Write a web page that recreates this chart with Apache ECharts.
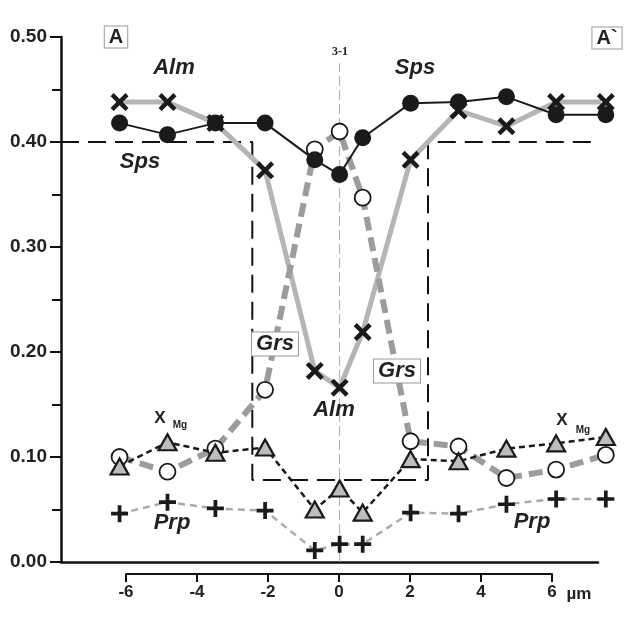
<!DOCTYPE html>
<html>
<head>
<meta charset="utf-8">
<script src="https://cdn.jsdelivr.net/npm/echarts@6/dist/echarts.min.js"></script>
<style>
html,body{margin:0;padding:0;background:#fff}
#chart{width:640px;height:618px}
</style>
</head>
<body>
<div id="chart"></div>
<script>
// distance from the centre of the profile, µm
var distance = [-6.2, -4.85, -3.5, -2.1, -0.7, 0, 0.65, 2.0, 3.35, 4.7, 6.1, 7.5];

var sps = [0.418, 0.407, 0.418, 0.418, 0.383, 0.369, 0.404, 0.437, 0.438, 0.443, 0.426, 0.426];
var alm = [0.438, 0.438, 0.418, 0.373, 0.182, 0.166, 0.219, 0.383, 0.430, 0.415, 0.438, 0.438];
var grs = [0.100, 0.086, 0.108, 0.164, 0.393, 0.410, 0.347, 0.115, 0.110, 0.080, 0.088, 0.102];
var xMg = [0.091, 0.114, 0.104, 0.109, 0.050, 0.070, 0.047, 0.098, 0.096, 0.108, 0.113, 0.119];
var prp = [0.046, 0.057, 0.051, 0.049, 0.011, 0.017, 0.017, 0.047, 0.046, 0.055, 0.060, 0.060];

// zone boundary (dashed step line)
var zoneX = [-7.85, -2.46, -2.46, 2.49, 2.49, 8.5];
var zoneY = [0.40, 0.40, 0.078, 0.078, 0.40, 0.40];

var yTicks = [0, 0.1, 0.2, 0.3, 0.4, 0.5];
var xTicks = [-6, -4, -2, 0, 2, 4, 6];

function pairs(xs, ys) {
  return xs.map(function (x, i) { return [x, ys[i]]; });
}

var crossX = 'path://M3.5,0 L10,6.5 L16.5,0 L20,3.5 L13.5,10 L20,16.5 L16.5,20 L10,13.5 L3.5,20 L0,16.5 L6.5,10 L0,3.5 Z';
var crossPlus = 'path://M7.8,0 H12.2 V7.8 H20 V12.2 H12.2 V20 H7.8 V12.2 H0 V7.8 H7.8 Z';

var narrow = '"Liberation Sans Narrow", "Liberation Sans", Arial, sans-serif';
var ital = 'italic bold 22px "Liberation Sans", Arial, sans-serif';

var myChart = echarts.init(document.getElementById('chart'));

function label(x, y, text, font, boxed) {
  var st = {text: text, font: font, fill: '#222', align: 'center', verticalAlign: 'middle'};
  if (boxed) {
    st.backgroundColor = '#fff';
    st.borderColor = '#999';
    st.borderWidth = 1;
    st.padding = [1, 4, 0, 4];
  }
  return {type: 'text', x: x, y: y, z: 100, style: st};
}

myChart.setOption({
  animation: false,
  grid: [
    {left: 61, top: 37, width: 537, height: 525},
    {left: 126, top: 573, width: 426, height: 1}
  ],
  xAxis: [{
    type: 'value', min: -7.85, max: 7.28,
    axisLine: {onZero: false, lineStyle: {color: '#111', width: 2.5}},
    axisTick: {show: false}, axisLabel: {show: false}, splitLine: {show: false}
  }, {
    type: 'value', gridIndex: 1, min: xTicks[0], max: xTicks[xTicks.length - 1], interval: 2,
    axisLine: {onZero: false, lineStyle: {color: '#111', width: 2}},
    axisTick: {length: 8, lineStyle: {width: 2, color: '#111'}},
    axisLabel: {margin: 10, color: '#222', fontSize: 17, fontWeight: 'bold', fontFamily: narrow},
    splitLine: {show: false}
  }],
  yAxis: [{
    type: 'value', min: yTicks[0], max: yTicks[yTicks.length - 1], interval: 0.1,
    axisLine: {show: true, onZero: false, lineStyle: {color: '#111', width: 2.5}},
    axisTick: {length: 11, lineStyle: {width: 2, color: '#111'}},
    minorTick: {show: true, splitNumber: 2, length: 9, lineStyle: {width: 2, color: '#111'}},
    axisLabel: {margin: 14, color: '#222', fontSize: 19, fontWeight: 'bold', fontFamily: narrow,
      formatter: function (v) { return v.toFixed(2); }},
    splitLine: {show: false}
  }, {
    type: 'value', gridIndex: 1, show: false
  }],
  series: [
    {
      name: 'centre', type: 'line', data: [[0, 0], [0, 0.475]], symbol: 'none', clip: false,
      lineStyle: {color: '#aaa', width: 1, type: [10, 4]}, z: 1
    },
    {
      name: 'zone', type: 'line', data: pairs(zoneX, zoneY), symbol: 'none', clip: false,
      lineStyle: {color: '#111', width: 2, type: [18, 9]}, z: 2
    },
    {
      name: 'Alm', type: 'line', data: pairs(distance, alm), clip: false,
      symbol: crossX, symbolSize: 18,
      lineStyle: {color: '#b5b5b5', width: 5},
      itemStyle: {color: '#1a1a1a'}, z: 3
    },
    {
      name: 'Grs', type: 'line', data: pairs(distance, grs), clip: false,
      symbol: 'circle', symbolSize: 16,
      lineStyle: {color: '#9c9c9c', width: 6, type: [14, 7]},
      itemStyle: {color: '#fff', borderColor: '#1a1a1a', borderWidth: 1.8}, z: 4
    },
    {
      name: 'Prp', type: 'line', data: pairs(distance, prp), clip: false,
      symbol: crossPlus, symbolSize: 17,
      lineStyle: {color: '#aaa', width: 2.5, type: [7, 5]},
      itemStyle: {color: '#1a1a1a'}, z: 5
    },
    {
      name: 'XMg', type: 'line', data: pairs(distance, xMg), clip: false,
      symbol: 'triangle', symbolSize: [18, 16],
      lineStyle: {color: '#1a1a1a', width: 2.5, type: [6, 4]},
      itemStyle: {color: '#bdbdbd', borderColor: '#1a1a1a', borderWidth: 2.2}, z: 6
    },
    {
      name: 'Sps', type: 'line', data: pairs(distance, sps), clip: false,
      symbol: 'circle', symbolSize: 17,
      lineStyle: {color: '#1a1a1a', width: 2},
      itemStyle: {color: '#1a1a1a'}, z: 7
    }
  ],
  graphic: [
    label(116, 37, 'A', 'bold 20px "Liberation Sans", Arial', true),
    label(607, 38, 'A`', 'bold 20px "Liberation Sans", Arial', true),
    label(340, 52, '3-1', 'bold 12px "Liberation Serif", "Times New Roman", serif', false),
    label(174, 68, 'Alm', ital, false),
    label(140, 162, 'Sps', ital, false),
    label(415, 68, 'Sps', ital, false),
    label(275, 344, 'Grs', ital, true),
    label(397, 371, 'Grs', ital, true),
    label(334, 410, 'Alm', ital, false),
    label(160, 418, 'X', 'bold 17px "Liberation Sans", Arial', false),
    label(180, 425, 'Mg', 'bold 10px "Liberation Sans", Arial', false),
    label(562, 420, 'X', 'bold 17px "Liberation Sans", Arial', false),
    label(583, 430, 'Mg', 'bold 10px "Liberation Sans", Arial', false),
    label(172, 523, 'Prp', ital, false),
    label(532, 522, 'Prp', ital, false),
    label(579, 594, 'µm', 'bold 17px ' + narrow, false)
  ]
});
</script>
</body>
</html>
